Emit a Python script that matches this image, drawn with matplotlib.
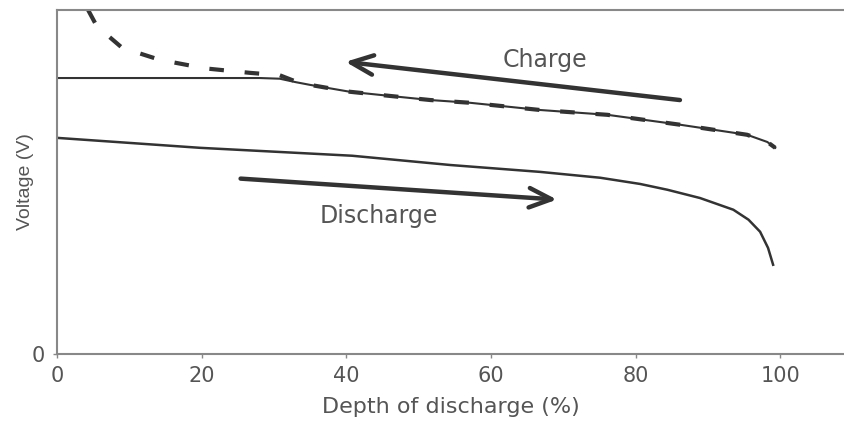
import matplotlib.pyplot as plt

# charge curve (solid)
charge_x = [0, 10, 20, 28, 30.8, 33, 35, 40.5, 46, 51.6, 57.1, 66.8, 76.1, 86.2, 95.4, 98.2, 99.3]
charge_y = [0.802, 0.802, 0.802, 0.802, 0.800, 0.790, 0.782, 0.762, 0.750, 0.738, 0.730, 0.709, 0.695, 0.666, 0.637, 0.616, 0.599]

# charge curve (dashed)
charge2_x = [4.3, 5.5, 9, 14.2, 20.5, 26.7, 30.8, 33, 35, 40.5, 46, 51.6, 57.1, 66.8, 76.1, 86.2, 95.4, 98.2, 99.3]
charge2_y = [1.0, 0.953, 0.89, 0.855, 0.83, 0.817, 0.81, 0.792, 0.782, 0.762, 0.750, 0.738, 0.730, 0.709, 0.695, 0.666, 0.637, 0.616, 0.599]

# discharge curve
dis_x = [0, 19.8, 40.8, 54.4, 66.8, 75.1, 80.6, 84.4, 88.9, 93.5, 95.6, 97.2, 98.3, 99.0]
dis_y = [0.628, 0.599, 0.576, 0.549, 0.529, 0.512, 0.494, 0.477, 0.453, 0.419, 0.390, 0.355, 0.308, 0.259]

xticks = [0, 20, 40, 60, 80, 100]

plt.rcParams['font.family'] = ['DejaVu Sans']

fig = plt.figure(figsize=(8.44, 4.32), dpi=100)
ax = fig.add_axes([0.0675, 0.181, 0.9325, 0.796])

line_c = '#333333'
txt_c = '#555555'
ax.plot(charge_x, charge_y, color=line_c, lw=1.5)
ax.plot(charge2_x, charge2_y, color=line_c, lw=3, ls=(0, (3.5, 5)))
ax.plot(dis_x, dis_y, color=line_c, lw=1.8)

arrow = dict(arrowstyle='->, head_length=0.8, head_width=0.35', lw=3.2,
             color=line_c, mutation_scale=20)
ax.annotate('', xy=(39.5, 0.85), xytext=(86.5, 0.737), arrowprops=arrow)
ax.annotate('', xy=(69.5, 0.448), xytext=(25, 0.51), arrowprops=arrow)
ax.text(67.5, 0.855, 'Charge', fontsize=17, color=txt_c, ha='center', va='center')
ax.text(44.5, 0.40, 'Discharge', fontsize=17, color=txt_c, ha='center', va='center')

ax.set_xlim(0, 108.8)
ax.set_ylim(0, 1)
ax.set_xticks(xticks)
ax.set_yticks([0])
ax.tick_params(length=3, width=1, color='#888888', labelcolor=txt_c, labelsize=15, pad=6)
for s in ax.spines.values():
    s.set_color('#888888')
    s.set_linewidth(1.5)
ax.spines['right'].set_visible(False)
ax.set_xlabel('Depth of discharge (%)', fontsize=16, color=txt_c, labelpad=8)
ax.set_ylabel('Voltage (V)', fontsize=14, color=txt_c, labelpad=-2,
              family=['Liberation Sans'])

fig.savefig('out.png', dpi=100)
